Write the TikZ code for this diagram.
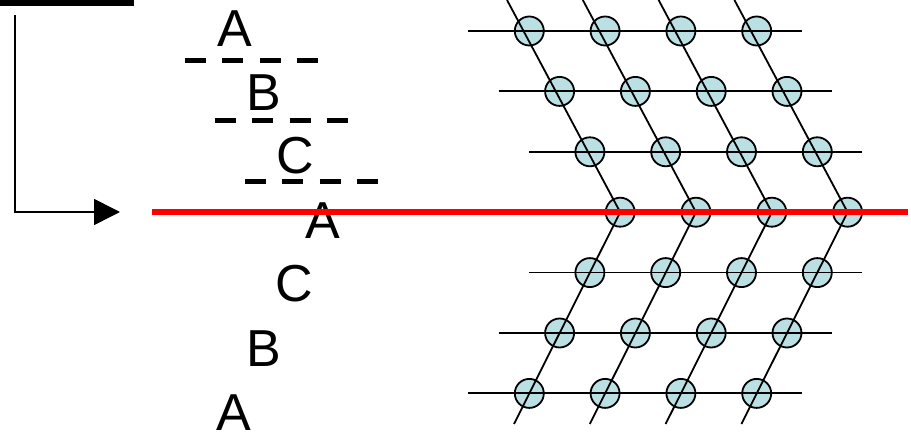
\documentclass[tikz,border=0pt]{standalone}
\usepackage{fontspec}
\setmainfont{Liberation Sans}
\usetikzlibrary{arrows.meta}
\definecolor{ballfill}{RGB}{186,224,228}
\begin{document}
\begin{tikzpicture}[x=1pt,y=-1pt,
  letter/.style={font=\fontsize{52}{52}\selectfont, anchor=base, inner sep=0pt, text depth=0pt},
  dashline/.style={line width=5pt, dash pattern=on 21pt off 16.3pt},
  ball/.style={circle, draw, line width=1.8pt, fill=ballfill, minimum size=29pt, inner sep=0pt},
  gridline/.style={line width=1.8pt},
  redline/.style={red, line width=5.7pt}
]
\useasboundingbox (0,0) rectangle (911,438);
% top bar
\coordinate (barL) at (0,3);
\coordinate (barR) at (134,3);
\draw[line width=5.5pt] (barL) -- (barR);
% bent arrow
\coordinate (aS) at (15,15);
\coordinate (aC) at (15,212);
\coordinate (aT) at (120,212);
\draw[line width=1.6pt, -{Triangle[length=26pt,width=26pt]}] (aS) -- (aC) -- (aT);
% dashed separators
\coordinate (d1a) at (185,61);  \coordinate (d1b) at (318,61);
\coordinate (d2a) at (215,121); \coordinate (d2b) at (348,121);
\coordinate (d3a) at (245,182); \coordinate (d3b) at (378,182);
\draw[dashline] (d1a) -- (d1b);
\draw[dashline] (d2a) -- (d2b);
\draw[dashline] (d3a) -- (d3b);
% letters
\node[letter] (l1) at (234.5,47) {A};
\node[letter] (l2) at (263.5,111) {B};
\node[letter] (l3) at (295,174) {C};
\node[letter] (l4) at (322.5,239) {A};
\node[letter] (l5) at (294.7,302) {C};
\node[letter] (l6) at (263.5,366.5) {B};
\node[letter] (l7) at (234,430.5) {A};
% lattice circles
\foreach \r/\m in {0/0,1/1,2/2,3/3,4/2,5/1,6/0}{
  \foreach \k in {0,1,2,3}{
    \node[ball] (b\r\k) at ({529.3+30.3*\m+75.8*\k},{31+60.4*\r}) {};
  }
}
% horizontal lines
\foreach \r/\m in {0/0,1/1,2/2,4/2,5/1,6/0}{
  \coordinate (hL\r) at ({529.3+30.3*\m-61},{31+60.4*\r});
  \coordinate (hR\r) at ({529.3+30.3*\m+272.4},{31+60.4*\r});
  \draw[gridline] (hL\r) -- (hR\r);
}
% zigzag lines
\foreach \k in {0,1,2,3}{
  \coordinate (zT\k) at ({507+75.8*\k},0);
  \coordinate (zM\k) at ({620.2+75.8*\k},212.2);
  \coordinate (zB\k) at ({514+75.8*\k},424);
  \draw[gridline] (zT\k) -- (zM\k) -- (zB\k);
}
% red line
\coordinate (rL) at (152,212);
\coordinate (rR) at (908,212);
\draw[redline] (rL) -- (rR);
\end{tikzpicture}
\end{document}
